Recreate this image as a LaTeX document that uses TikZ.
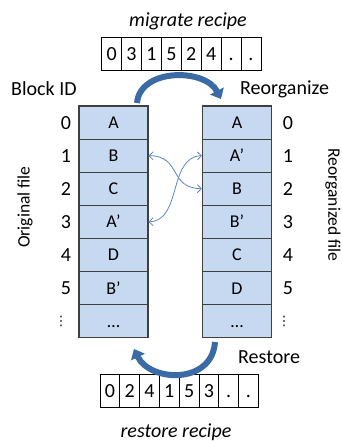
\documentclass[tikz,border=0pt]{standalone}
\usepackage{fontspec}
\setmainfont{Carlito}
\newfontfamily\dejavu{DejaVu Sans}
\usetikzlibrary{arrows.meta}
\definecolor{cellblue}{HTML}{C6D9F1}
\definecolor{cellborder}{HTML}{404040}
\definecolor{bigarrow}{HTML}{3A6BA5}
\definecolor{thinarrow}{HTML}{5B87C2}
\begin{document}
\begin{tikzpicture}[x=1pt,y=-1pt,
  blk/.style={draw=cellborder,fill=cellblue,line width=1.1pt,minimum width=69pt,minimum height=33.1pt,inner sep=0pt,text height=12pt,text depth=0pt,font=\fontsize{18}{20}\selectfont},
  rcell/.style={draw=black,line width=0.7pt,fill=white,minimum width=19.9pt,minimum height=33pt,inner sep=0pt,text height=13pt,text depth=0pt,font=\fontsize{20}{22}\selectfont},
  lbl/.style={inner sep=0pt,font=\fontsize{20}{24}\selectfont},
  side/.style={inner sep=0pt,font=\fontsize{17.5}{20}\selectfont},
  idx/.style={inner sep=0pt,text height=13pt,text depth=0pt,font=\fontsize{20}{24}\selectfont},
  vd/.style={inner sep=0pt,font=\dejavu\fontsize{13}{15}\selectfont},
  thin/.style={thinarrow,line width=0.8pt,{Straight Barb[length=4pt,width=8pt]}-{Straight Barb[length=4pt,width=8pt]}},
  big/.style={bigarrow,line width=6pt,-{Triangle[width=15pt,length=9pt]}}]
\useasboundingbox (0,0) rectangle (341,441);
% columns
\foreach \t [count=\i from 0] in {A,B,C,A’,D,B’,…}{
  \node[blk] (L\i) at (113.5,{106+33.1*(\i+0.5)}) {\t};
}
\foreach \t [count=\i from 0] in {A,A’,B,B’,C,D,…}{
  \node[blk] (R\i) at (237,{106+33.1*(\i+0.5)}) {\t};
}
% indices
\foreach \i in {0,...,5}{
  \node[idx] (li\i) at (66,{106+33.1*(\i+0.5)}) {\i};
  \node[idx] (ri\i) at (288,{106+33.1*(\i+0.5)}) {\i};
}
\node[vd] (li6) at (61,{106+33.1*6.5}) {⋮};
\node[vd] (ri6) at (284,{106+33.1*6.5}) {⋮};
% recipes
\foreach \t [count=\i from 0] in {0,3,1,5,2,4,.,.}{
  \node[rcell] (T\i) at ({101.7+19.9*(\i+0.5)},54.3) {\t};
}
\foreach \t [count=\i from 0] in {0,2,4,1,5,3,.,.}{
  \node[rcell] (B\i) at ({100+19.8*(\i+0.5)},391) {\t};
}
% labels
\node[lbl] (mig) at (188,21) {\itshape migrate recipe};
\node[lbl] (res) at (176,432) {\itshape restore recipe};
\node[lbl,anchor=west] (bid) at (11,89) {Block ID};
\node[lbl,anchor=west] (reo) at (240,89) {Reorganize};
\node[lbl,anchor=west] (rst) at (238,357) {Restore};
\node[side,rotate=90] (orig) at (25,207) {Original file};
\node[side,rotate=-90] (reorg) at (333,205) {Reorganized file};
% big arrows
\coordinate (ta) at (137,103);
\coordinate (tb) at (221,99);
\draw[big] (ta) .. controls (140,68) and (205,68) .. (tb);
\coordinate (ba) at (215,342);
\coordinate (bb) at (134,349);
\draw[big] (ba) .. controls (212,385) and (150,382) .. (bb);
% thin arrows
\draw[thin] (L1.east) .. controls (182,156) and (168,188) .. (R2.west);
\draw[thin] (R1.west) .. controls (168,157) and (182,221) .. (L3.east);
\end{tikzpicture}
\end{document}
